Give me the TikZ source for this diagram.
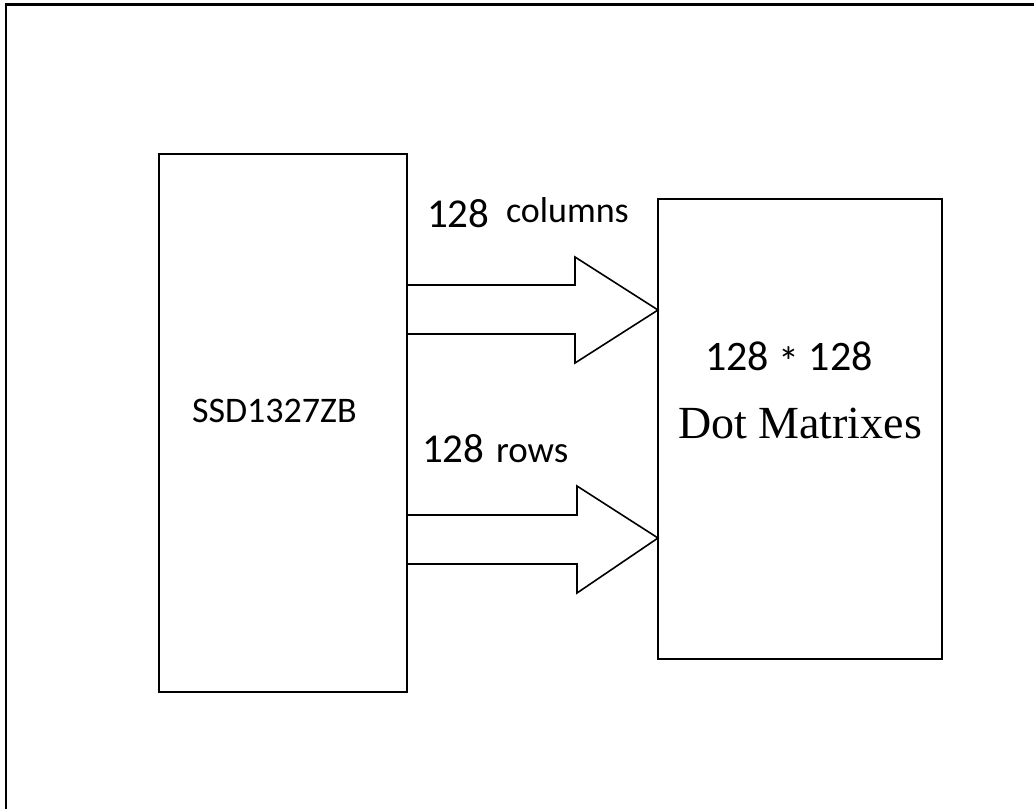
\documentclass[tikz,border=0pt]{standalone}
\usepackage{fontspec}
\setmainfont{Liberation Serif}
\newfontfamily\carl{Carlito}
\usetikzlibrary{calc}
\begin{document}
\begin{tikzpicture}[x=1pt,y=-1pt,
  blockbox/.style={draw=black, line width=2pt, rectangle, inner sep=0pt, outer sep=0pt},
  fatarrow/.style={draw=black, line width=1.6pt, line join=miter},
  txt/.style={inner sep=0pt, outer sep=0pt, anchor=base west, text=black},
  frameline/.style={draw=black, line width=2.5pt}]
\useasboundingbox (0,0) rectangle (1034,809);
% outer frame (top and left edges visible)
\draw[frameline] (6,809) -- (6,4.5) -- (1034,4.5);
% blocks
\node[blockbox, minimum width=248pt, minimum height=538pt] (ssd) at (283,423) {};
\node[blockbox, minimum width=284pt, minimum height=460pt] (dm) at (800,429) {};
% arrow: columns
\coordinate (a1s) at ($(ssd.north east)+(0,131)$);
\coordinate (a1e) at ($(ssd.north east)+(0,180)$);
\coordinate (a1t) at ($(dm.north west)+(0,111)$);
\draw[fatarrow] (a1s) -- (575,285) -- (575,257) -- (a1t) -- (575,363) -- (575,334) -- (a1e);
% arrow: rows
\coordinate (a2s) at ($(ssd.north east)+(0,361)$);
\coordinate (a2e) at ($(ssd.north east)+(0,410)$);
\coordinate (a2t) at ($(dm.north west)+(0,339)$);
\draw[fatarrow] (a2s) -- (577,515) -- (577,486) -- (a2t) -- (577,593) -- (577,564) -- (a2e);
% texts
\node[txt, font=\carl\fontsize{36}{36}\selectfont] (ssdt) at (192,422) {SSD1327ZB};
\node[txt, font=\carl\fontsize{41}{41}\selectfont] (n1) at (427,227) {128};
\node[txt, font=\carl\fontsize{36}{36}\selectfont] (col) at (506,222) {columns};
\node[txt, font=\carl\fontsize{41}{41}\selectfont] (n2) at (422,462) {128};
\node[txt, font=\carl\fontsize{37}{37}\selectfont] (rows) at (496,462) {rows};
\node[txt, font=\carl\fontsize{42}{42}\selectfont] (mtx) at (705,370) {128 \raisebox{-6pt}{*} 128};
\node[txt, font=\fontsize{46}{46}\selectfont] (dot) at (678,438) {Dot Matrixes};
\end{tikzpicture}
\end{document}
